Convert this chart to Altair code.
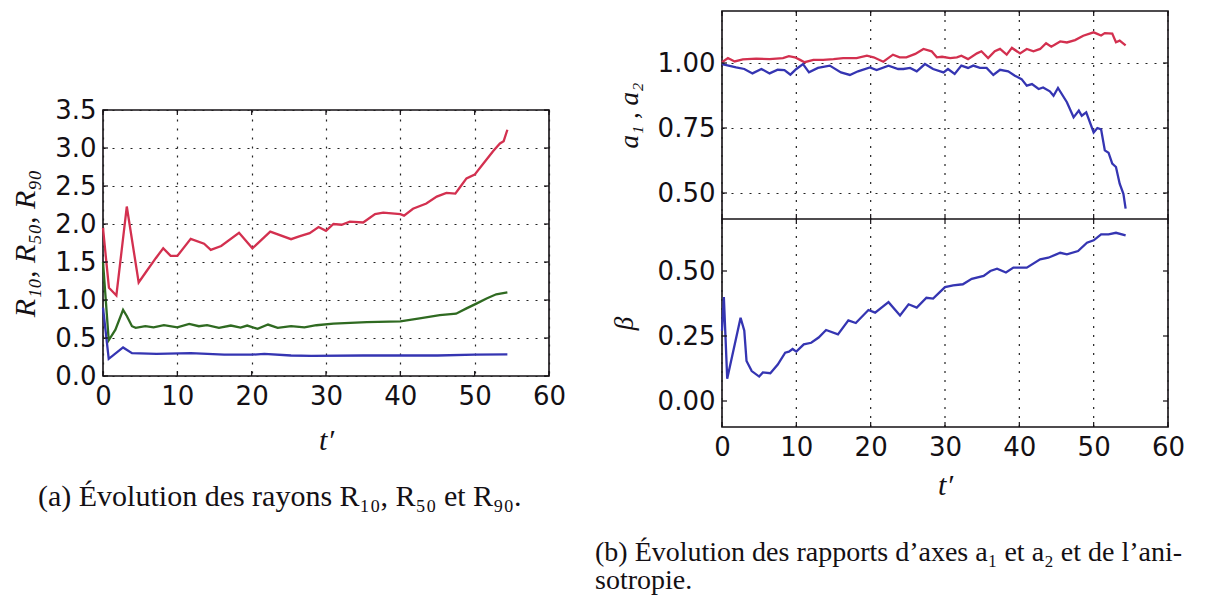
import altair as alt
import pandas as pd

# ---------------- data ----------------
R90_T = [0, 0.4, 0.8, 1.8, 3.2, 4.8, 5.9, 7.1, 8.1, 9.1, 10, 11.8, 13.6, 14.5, 15.9, 18.3, 20.1,
         22.5, 25.3, 26.5, 27.8, 29, 30, 31, 32.1, 33.2, 35, 36.6, 37.7, 40, 40.5, 41.7, 43.5,
         44.9, 46.2, 47.4, 48, 48.9, 50, 51.2, 52.5, 53.4, 53.9, 54.4]
R90 = [1.95, 1.55, 1.16, 1.06, 2.23, 1.23, 1.385, 1.55, 1.68, 1.58, 1.58, 1.805, 1.74, 1.66, 1.71,
       1.885, 1.68, 1.90, 1.80, 1.84, 1.88, 1.96, 1.91, 2.0, 1.99, 2.03, 2.02, 2.13, 2.15, 2.13,
       2.11, 2.20, 2.27, 2.36, 2.41, 2.40, 2.48, 2.60, 2.65, 2.80, 2.96, 3.06, 3.09, 3.24]

R50_T = [0, 0.77, 1.67, 2.7, 3.2, 3.9, 4.4, 5.7, 6.8, 8.2, 10, 11.6, 12.9, 14, 15.6, 17.2, 18.5,
         19.4, 20.8, 22.2, 23.5, 25.3, 27.1, 28.7, 31, 35.5, 40, 42.6, 45.3, 47.5, 48.9, 50.3,
         51.6, 52.9, 54.4]
R50 = [1.5, 0.47, 0.61, 0.87, 0.79, 0.655, 0.633, 0.655, 0.64, 0.67, 0.64, 0.686, 0.655, 0.67,
       0.633, 0.664, 0.637, 0.664, 0.62, 0.677, 0.633, 0.655, 0.64, 0.668, 0.69, 0.71, 0.72,
       0.757, 0.80, 0.82, 0.89, 0.956, 1.02, 1.075, 1.10]

R10_T = [0, 0.77, 2.7, 3.9, 7.2, 11.8, 16.3, 19.9, 21.7, 25.3, 28, 35, 40, 45, 50, 54.4]
R10 = [0.9, 0.226, 0.376, 0.30, 0.29, 0.30, 0.28, 0.28, 0.29, 0.27, 0.265, 0.27, 0.27, 0.27,
       0.28, 0.285]

A1_T = [0, 0.8, 1.7, 2.8, 4.6, 6.4, 8.2, 9, 9.8, 10.5, 11.1, 12.3, 13.6, 15, 16.3, 18.1, 19.5,
        20.4, 21.7, 23, 23.9, 24.8, 26, 27.1, 28.2, 28.9, 29.6, 30.7, 31.6, 32.2, 33.1, 34.3,
        34.9, 35.8, 36.7, 37.4, 38.3, 39, 40.1, 41, 41.9, 42.8, 43.6, 44.3, 45.5, 46.4, 47.5,
        48.6, 50, 51, 51.5, 52.5, 53, 53.5, 54.3]
A1 = [1.003, 1.019, 1.006, 1.014, 1.017, 1.015, 1.019, 1.026, 1.022, 1.012, 1.003, 1.012, 1.012,
      1.015, 1.019, 1.019, 1.028, 1.022, 1.005, 1.032, 1.022, 1.022, 1.035, 1.054, 1.045, 1.022,
      1.024, 1.019, 1.022, 1.028, 1.015, 1.037, 1.045, 1.019, 1.045, 1.054, 1.032, 1.058, 1.037,
      1.054, 1.045, 1.054, 1.076, 1.063, 1.083, 1.079, 1.088, 1.105, 1.118, 1.106, 1.115, 1.113,
      1.08, 1.086, 1.068]

A2_T = [0, 1.9, 3, 4.1, 5.3, 6.4, 7.5, 8.4, 9.2, 10, 10.9, 11.7, 12.9, 14.5, 16, 17.2, 18.3, 19.9,
        20.8, 22.4, 23.7, 24.4, 25.3, 26.2, 27.3, 28.4, 29.8, 30.4, 31.3, 32.2, 33.1, 33.8, 34.7,
        35.6, 36.5, 37.4, 38.5, 39.4, 40.3, 41, 41.7, 42.6, 43.2, 44.1, 44.6, 45.2, 46.4, 47.3,
        48, 48.4, 49, 50, 50.5, 51, 51.5, 52, 52.5, 53, 53.5, 54, 54.3]
A2 = [0.996, 0.983, 0.977, 0.96, 0.977, 0.96, 0.974, 0.973, 0.955, 0.977, 0.996, 0.964, 0.981,
      0.99, 0.964, 0.954, 0.968, 0.983, 0.973, 0.99, 0.977, 0.977, 0.981, 0.968, 0.996, 0.977,
      0.964, 0.977, 0.958, 0.99, 0.981, 0.99, 0.981, 0.981, 0.954, 0.974, 0.968, 0.951, 0.938,
      0.913, 0.919, 0.9, 0.906, 0.891, 0.874, 0.904, 0.849, 0.791, 0.817, 0.797, 0.81, 0.733,
      0.75, 0.745, 0.664, 0.655, 0.613, 0.60, 0.536, 0.497, 0.44]

B_T = [0, 0.25, 0.7, 2.5, 3.0, 3.3, 4, 5, 5.5, 6.5, 7.5, 8.5, 9, 9.5, 10, 11, 12, 13, 14, 15.6,
       17, 18, 19.7, 20.6, 22.4, 23.95, 25.1, 26.2, 27.5, 28.4, 30, 31.1, 32.4, 33.6, 35.2, 36.1,
       37, 38.2, 39.2, 41, 42.8, 43.9, 45.5, 46.4, 47.9, 49.1, 50, 51, 52, 53, 54.3]
BETA = [0.27, 0.40, 0.086, 0.32, 0.27, 0.154, 0.115, 0.094, 0.11, 0.107, 0.14, 0.186, 0.19, 0.20,
        0.19, 0.218, 0.224, 0.244, 0.273, 0.256, 0.31, 0.30, 0.35, 0.34, 0.38, 0.329, 0.372,
        0.359, 0.397, 0.394, 0.438, 0.445, 0.449, 0.47, 0.481, 0.50, 0.509, 0.494, 0.513, 0.513,
        0.545, 0.551, 0.57, 0.564, 0.577, 0.609, 0.618, 0.641, 0.641, 0.647, 0.637]

X_TICKS = [0, 10, 20, 30, 40, 50, 60]
R_TICKS = [0.0, 0.5, 1.0, 1.5, 2.0, 2.5, 3.0, 3.5]
A_TICKS = [0.5, 0.75, 1.0]
B_TICKS = [0.0, 0.25, 0.5]

CAPTION_A = "(a) Évolution des rayons R₁₀, R₅₀ et R₉₀."
CAPTION_B1 = "(b) Évolution des rapports d’axes a₁ et a₂ et de l’ani-"
CAPTION_B2 = "sotropie."

# ---------------- styling ----------------
RED = "#d3304f"
GREEN = "#2f6a21"
BLUE = "#3535b2"
INK = "#141014"
GRID = "#222222"
DASH = [2, 7]
W = 446
HL = 266
HR = 208          # height of each of the two right-hand panels
SERIF = "Liberation Serif"

xscale = alt.Scale(domain=[0, 60], nice=False, zero=False)


def x_axis(title_y, grid=True):
    return alt.Axis(values=X_TICKS, format="d", title="t′", titleX=W / 2, titleY=title_y,
                    titleAlign="center", titleBaseline="middle", titleFontSize=30, grid=grid)


def y_axis(ticks, fmt, title, tx, ty, size):
    return alt.Axis(values=ticks, format=fmt, title=title, titleX=tx, titleY=ty, titleAngle=270,
                    titleAlign="center", titleBaseline="middle", titleFontSize=size,
                    orient="left")


def series(ts, vs, color, xax, yscale, yax):
    df = pd.DataFrame({"t": ts, "v": vs})
    return alt.Chart(df).mark_line(strokeWidth=2.3, color=color).encode(
        x=alt.X("t:Q", scale=xscale, axis=xax),
        y=alt.Y("v:Q", scale=yscale, axis=yax),
    )


def x_ticks(xax, spans, dash=None, color=INK, width=1.2):
    xt = pd.DataFrame({"t": X_TICKS})
    if dash:
        bx = alt.Chart(xt).mark_rule(color=color, strokeWidth=width, strokeDash=dash)
    else:
        bx = alt.Chart(xt).mark_rule(color=color, strokeWidth=width)
    xe = alt.X("t:Q", scale=xscale, axis=xax)
    return [bx.encode(x=xe, y=alt.value(a), y2=alt.value(b)) for a, b in spans]


def y_ticks(yscale, yax, yticks):
    yt = pd.DataFrame({"v": yticks})
    by = alt.Chart(yt).mark_rule(color=INK, strokeWidth=1.2)
    ye = alt.Y("v:Q", scale=yscale, axis=yax)
    return [by.encode(y=ye, x=alt.value(0), x2=alt.value(5)),
            by.encode(y=ye, x=alt.value(W - 5), x2=alt.value(W))]


def caption(text, x, y, size):
    return alt.Chart(pd.DataFrame({"c": [text]})).mark_text(
        align="left", baseline="middle", font=SERIF, fontSize=size, color=INK
    ).encode(text="c:N", x=alt.value(x), y=alt.value(y))


# ---------------- left panel ----------------
rscale = alt.Scale(domain=[0, 3.5], nice=False, zero=False)
lx = x_axis(64)
ly = y_axis(R_TICKS, ".1f", "R₁₀,  R₅₀,  R₉₀", -78, HL / 2, 30)
left_panel = alt.layer(
    series(R90_T, R90, RED, lx, rscale, ly),
    series(R50_T, R50, GREEN, lx, rscale, ly),
    series(R10_T, R10, BLUE, lx, rscale, ly),
    *x_ticks(lx, [(0, 5), (HL - 5, HL)]),
    *y_ticks(rscale, ly, R_TICKS),
    caption(CAPTION_A, -65, 387, 30),
).properties(width=W, height=HL)

spacer = alt.Chart(pd.DataFrame({"k": [0]})).mark_point(opacity=0).properties(
    width=W, height=84, view=alt.ViewBackground(stroke="transparent"))

left_col = alt.vconcat(spacer, left_panel, spacing=0)

# ---------------- right: two stacked panels sharing the t' axis ----------------
H2 = 2 * HR
rx = x_axis(58, grid=False)
ascale = alt.Scale(domain=[0.4, 1.2], range=[HR, 0], nice=False, zero=False)
ay = y_axis(A_TICKS, ".2f", "a₁ , a₂", -93, HR / 2, 27)
bscale = alt.Scale(domain=[-0.1, 0.7], range=[H2, HR], nice=False, zero=False)
by_ = y_axis(B_TICKS, ".2f", "β", -98, HR + HR / 2, 27)

top_group = alt.layer(
    *x_ticks(rx, [(0, H2)], dash=DASH, color=GRID, width=1.2),   # vertical grid, both panels
    series(A1_T, A1, RED, rx, ascale, ay),
    series(A2_T, A2, BLUE, rx, ascale, ay),
    *y_ticks(ascale, ay, A_TICKS),
    *x_ticks(rx, [(0, 5), (HR - 5, HR + 5), (H2 - 5, H2)]),
)

sep = alt.Chart(pd.DataFrame({"k": [0]})).mark_rule(color=INK, strokeWidth=1.6).encode(
    x=alt.value(0), x2=alt.value(W), y=alt.value(HR))

bottom_group = alt.layer(
    series(B_T, BETA, BLUE, rx, bscale, by_),
    *y_ticks(bscale, by_, B_TICKS),
    sep,
    caption(CAPTION_B1, -127, HR + 334, 28),
    caption(CAPTION_B2, -127, HR + 362, 28),
)

right_panel = alt.layer(top_group, bottom_group).resolve_scale(y="independent").properties(
    width=W, height=H2)

chart = alt.hconcat(left_col, right_panel, spacing=27).properties(
    padding={"left": 1, "top": 1, "right": 5, "bottom": 0}
).configure_view(
    stroke=INK, strokeWidth=1.6
).configure_axis(
    domain=False, ticks=False, grid=True, gridColor=GRID, gridDash=DASH, gridWidth=1.2,
    gridOpacity=1, labelFont="DejaVu Sans", labelFontSize=26, labelColor=INK, labelPadding=7,
    labelFlush=False, labelOverlap=False, labelBound=False,
    titleFont=SERIF, titleFontStyle="italic", titleFontWeight="normal", titleColor=INK,
)

chart.save("out.html", embed_options={"renderer": "svg", "actions": False})
